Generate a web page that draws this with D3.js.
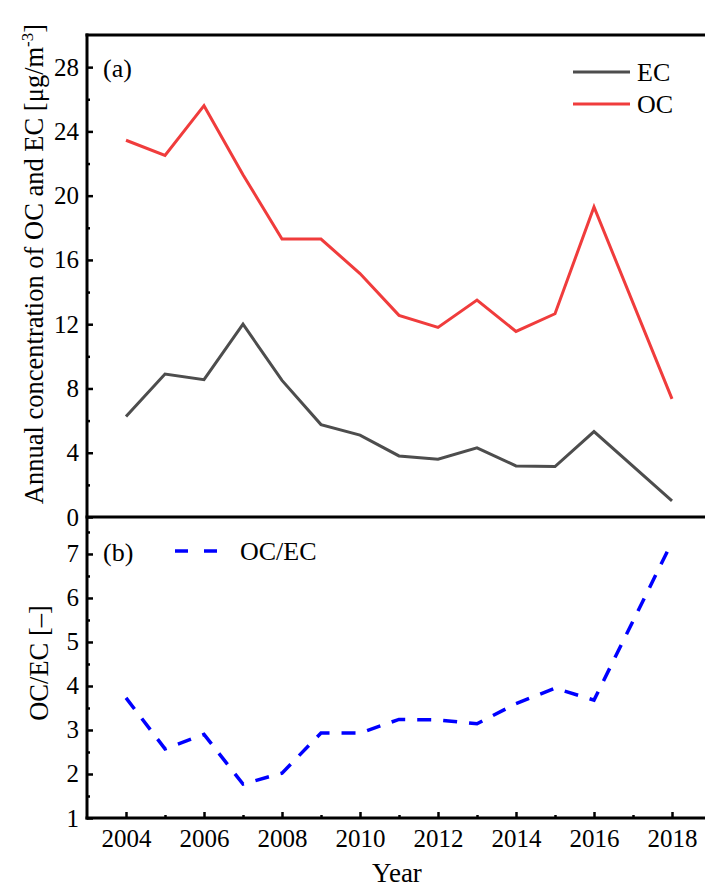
<!DOCTYPE html>
<html lang="en">

<head>
    <meta charset="UTF-8">
    <title>OC and EC</title>
    <script src="https://cdn.jsdelivr.net/npm/d3@7"></script>
    <style>
        body { margin: 0; background: #fff; }
        text { font-family: "Liberation Serif", "Times New Roman", serif; fill: #000; }
    </style>
</head>

<body>
    <div id="my_dataviz"></div>

    <script>
        // data (no 2017 value, the lines go straight 2016 -> 2018)
        var years = [2004, 2005, 2006, 2007, 2008, 2009, 2010, 2011, 2012, 2013, 2014, 2015, 2016, 2018];
        var ec = [6.25, 8.9, 8.55, 12.0, 8.5, 5.75, 5.1, 3.8, 3.6, 4.3, 3.18, 3.14, 5.32, 1.0];
        var oc = [23.45, 22.5, 25.6, 21.3, 17.3, 17.3, 15.15, 12.55, 11.8, 13.5, 11.55, 12.65, 19.3, 7.35];
        var ratio = [3.73, 2.57, 2.9, 1.77, 2.02, 2.93, 2.93, 3.24, 3.23, 3.14, 3.6, 3.95, 3.68, 7.27];

        var xMajor = [2004, 2006, 2008, 2010, 2012, 2014, 2016, 2018];
        var xMinor = [2005, 2007, 2009, 2011, 2013, 2015, 2017];
        var topMajor = [0, 4, 8, 12, 16, 20, 24, 28];
        var topMinor = [2, 6, 10, 14, 18, 22, 26];
        var botMajor = [1, 2, 3, 4, 5, 6, 7];
        var botMinor = [1.5, 2.5, 3.5, 4.5, 5.5, 6.5, 7.5];

        var W = 705, H = 887;
        var pLeft = 87, pRight = 711, pTop = 35, pMid = 517, pBottom = 818;
        var serif = "'Liberation Serif', 'Times New Roman', serif";

        var svg = d3.select("#my_dataviz")
            .append("svg")
            .attr("width", W)
            .attr("height", H)
            .attr("font-family", serif);

        var x = d3.scaleLinear().domain([2003, 2019]).range([pLeft, pRight]);
        var yTop = d3.scaleLinear().domain([0, 30]).range([pMid, pTop]);
        var yBot = d3.scaleLinear().domain([1, 7.84]).range([pBottom, pMid]);

        function tickStyle(g) {
            g.attr("font-family", serif);
            g.select(".domain").remove();
            g.selectAll("line").attr("stroke", "#000").attr("stroke-width", 2.5);
            g.selectAll("text")
                .style("font-family", serif)
                .style("font-size", "25px").attr("fill", "#000");
        }

        // y axes, ticks pointing inward
        svg.append("g").attr("transform", "translate(" + pLeft + ",0)")
            .call(d3.axisLeft(yTop).tickValues(topMajor).tickFormat(d3.format("d")).tickSizeInner(-6).tickSizeOuter(0).tickPadding(8))
            .call(tickStyle);
        svg.append("g").attr("transform", "translate(" + pLeft + ",0)")
            .call(d3.axisLeft(yTop).tickValues(topMinor).tickSizeInner(-3).tickSizeOuter(0).tickFormat(""))
            .call(tickStyle);
        svg.append("g").attr("transform", "translate(" + pLeft + ",0)")
            .call(d3.axisLeft(yBot).tickValues(botMajor).tickFormat(d3.format("d")).tickSizeInner(-6).tickSizeOuter(0).tickPadding(8))
            .call(tickStyle);
        svg.append("g").attr("transform", "translate(" + pLeft + ",0)")
            .call(d3.axisLeft(yBot).tickValues(botMinor).tickSizeInner(-3).tickSizeOuter(0).tickFormat(""))
            .call(tickStyle);

        // x axis
        svg.append("g").attr("transform", "translate(0," + pBottom + ")")
            .call(d3.axisBottom(x).tickValues(xMajor).tickFormat(d3.format("d")).tickSizeInner(-6).tickSizeOuter(0).tickPadding(11))
            .call(tickStyle);
        svg.append("g").attr("transform", "translate(0," + pBottom + ")")
            .call(d3.axisBottom(x).tickValues(xMinor).tickSizeInner(-3).tickSizeOuter(0).tickFormat(""))
            .call(tickStyle);

        // frame lines
        [pTop, pMid, pBottom].forEach(function (yy) {
            svg.append("line")
                .attr("x1", pLeft - 1.5).attr("x2", pRight)
                .attr("y1", yy).attr("y2", yy)
                .attr("stroke", "#000").attr("stroke-width", 3);
        });
        svg.append("line")
            .attr("x1", pLeft).attr("x2", pLeft)
            .attr("y1", pTop - 1.5).attr("y2", pBottom + 1.5)
            .attr("stroke", "#000").attr("stroke-width", 3);

        // lines
        var topLine = d3.line().x((d, i) => x(years[i])).y(d => yTop(d));
        var botLine = d3.line().x((d, i) => x(years[i])).y(d => yBot(d));

        svg.append("path").datum(ec)
            .attr("d", topLine)
            .attr("fill", "none").attr("stroke", "#4d4d4d").attr("stroke-width", 3);
        svg.append("path").datum(oc)
            .attr("d", topLine)
            .attr("fill", "none").attr("stroke", "#f03c3c").attr("stroke-width", 3);
        svg.append("path").datum(ratio)
            .attr("d", botLine)
            .attr("fill", "none").attr("stroke", "#0000ff").attr("stroke-width", 3.5)
            .attr("stroke-dasharray", "14,12");

        // panel labels
        svg.append("text").attr("x", 103).attr("y", 77).style("font-size", "26px").text("(a)");
        svg.append("text").attr("x", 103).attr("y", 561).style("font-size", "26px").text("(b)");

        // legends
        var legTop = [["EC", "#4d4d4d", 72], ["OC", "#f03c3c", 104]];
        legTop.forEach(function (l) {
            svg.append("line").attr("x1", 573).attr("x2", 630).attr("y1", l[2]).attr("y2", l[2])
                .attr("stroke", l[1]).attr("stroke-width", 3);
            svg.append("text").attr("x", 637).attr("y", l[2] + 9).style("font-size", "26px").text(l[0]);
        });
        svg.append("line").attr("x1", 175).attr("x2", 217).attr("y1", 551).attr("y2", 551)
            .attr("stroke", "#0000ff").attr("stroke-width", 3.5).attr("stroke-dasharray", "13,16");
        svg.append("text").attr("x", 240).attr("y", 560).style("font-size", "26px").text("OC/EC");

        // axis titles
        svg.append("text").attr("x", (pLeft + pRight) / 2 - 2).attr("y", 882)
            .attr("text-anchor", "middle").style("font-size", "27px").text("Year");

        var yt = svg.append("text")
            .attr("transform", "translate(43,264) rotate(-90)")
            .attr("text-anchor", "middle").style("font-size", "26.5px");
        yt.append("tspan").text("Annual concentration of OC and EC [μg/m");
        yt.append("tspan").attr("dy", -10).style("font-size", "17px").text("-3");
        yt.append("tspan").attr("dy", 10).text("]");

        svg.append("text")
            .attr("transform", "translate(48,663) rotate(-90)")
            .attr("text-anchor", "middle").style("font-size", "26.5px").text("OC/EC [–]");
    </script>
</body>

</html>
